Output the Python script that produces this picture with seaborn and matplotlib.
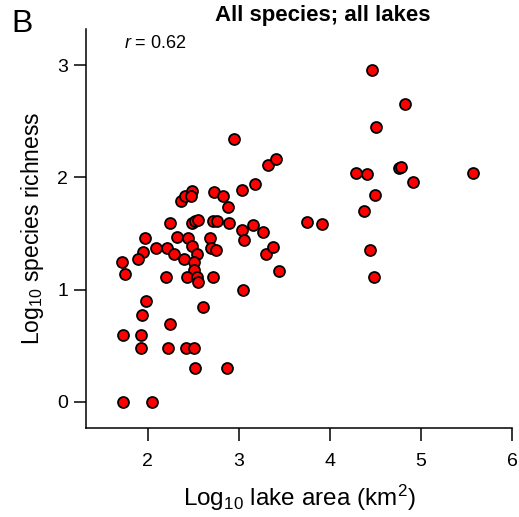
import pandas as pd
import matplotlib.pyplot as plt
import seaborn as sns

# data (log10 values)
lake_area = [2.950, 3.325, 3.412, 3.182, 3.039, 2.727, 2.822, 2.880, 2.362, 2.411,
             2.486, 2.475, 2.245, 2.486, 2.522, 2.557, 2.713, 2.765, 2.891, 3.037,
             3.158, 3.270, 3.054, 1.967, 2.321, 2.442, 2.683, 2.091, 2.212, 1.952,
             1.896, 1.716, 1.749, 2.288, 2.401, 2.484, 2.546, 2.513, 2.511, 2.689,
             2.752, 2.204, 2.436, 2.543, 2.552, 2.716, 3.045, 3.297, 3.379, 3.436,
             1.981, 2.612, 1.938, 2.241, 1.726, 1.923, 1.923, 2.223, 2.417, 2.508,
             2.519, 2.870, 1.729, 2.047, 3.743, 3.917, 4.282, 4.408, 4.503, 4.496,
             4.372, 4.443, 4.481, 4.463, 4.825, 4.752, 4.777, 4.912, 5.570]
richness = [2.342, 2.110, 2.164, 1.939, 1.888, 1.874, 1.832, 1.734, 1.793, 1.833,
            1.881, 1.830, 1.597, 1.598, 1.612, 1.621, 1.607, 1.607, 1.594, 1.529,
            1.572, 1.514, 1.443, 1.456, 1.469, 1.458, 1.458, 1.374, 1.374, 1.336,
            1.273, 1.249, 1.140, 1.315, 1.273, 1.392, 1.315, 1.249, 1.173, 1.374,
            1.354, 1.110, 1.110, 1.110, 1.071, 1.110, 0.995, 1.315, 1.378, 1.169,
            0.895, 0.846, 0.775, 0.697, 0.599, 0.599, 0.477, 0.477, 0.477, 0.477,
            0.301, 0.301, 0.0, 0.0, 1.606, 1.585, 2.042, 2.029, 2.449, 1.839,
            1.701, 1.354, 1.110, 2.956, 2.656, 2.081, 2.090, 1.956, 2.042]
x_ticks = [2, 3, 4, 5, 6]
y_ticks = [0, 1, 2, 3]

df = pd.DataFrame({"area": lake_area, "rich": richness})

sns.set_style("ticks")
plt.rcParams['font.family'] = ['Liberation Sans', 'DejaVu Sans']
plt.rcParams['text.color'] = 'black'
plt.rcParams['axes.labelcolor'] = 'black'
plt.rcParams['mathtext.fontset'] = 'custom'
plt.rcParams['mathtext.rm'] = 'Liberation Sans'
plt.rcParams['mathtext.it'] = 'Liberation Sans:italic'

fig = plt.figure(figsize=(5.19, 5.17), dpi=100)
ax = fig.add_axes([0.1657, 0.1721, 0.8214, 0.7718])

sns.scatterplot(data=df, x="area", y="rich", ax=ax, color="#ff0000",
                edgecolor="black", linewidth=1.3, s=62, zorder=3)

ax.set_xlim(1.323, 6.0)
ax.set_ylim(-0.232, 3.321)
ax.set_xticks(x_ticks)
ax.set_yticks(y_ticks)
ax.tick_params(direction="out", length=9, width=1.1, labelsize=14, colors="black")
ax.tick_params(axis="x", pad=9)
ax.tick_params(axis="y", pad=4)
for sp in ["left", "bottom"]:
    ax.spines[sp].set_linewidth(1.1)
    ax.spines[sp].set_color("black")
sns.despine(ax=ax)

ax.set_xlabel(r"Log$_{10}$ lake area (km$^{2}$)", fontsize=17.5, labelpad=9)
ax.set_ylabel(r"Log$_{10}$ species richness", fontsize=16.5, labelpad=8)

fig.text(323 / 519, 1 - 15 / 517, "All species; all lakes", fontsize=16,
         fontweight="bold", ha="center", va="center")
fig.text(11 / 519, 1 - 24 / 517, "B", fontsize=23, ha="left", va="center")
fig.text(124 / 519, 1 - 44 / 517, r"$\it{r}$ = 0.62", fontsize=13,
         ha="left", va="center")

fig.savefig("out.png", dpi=100)
